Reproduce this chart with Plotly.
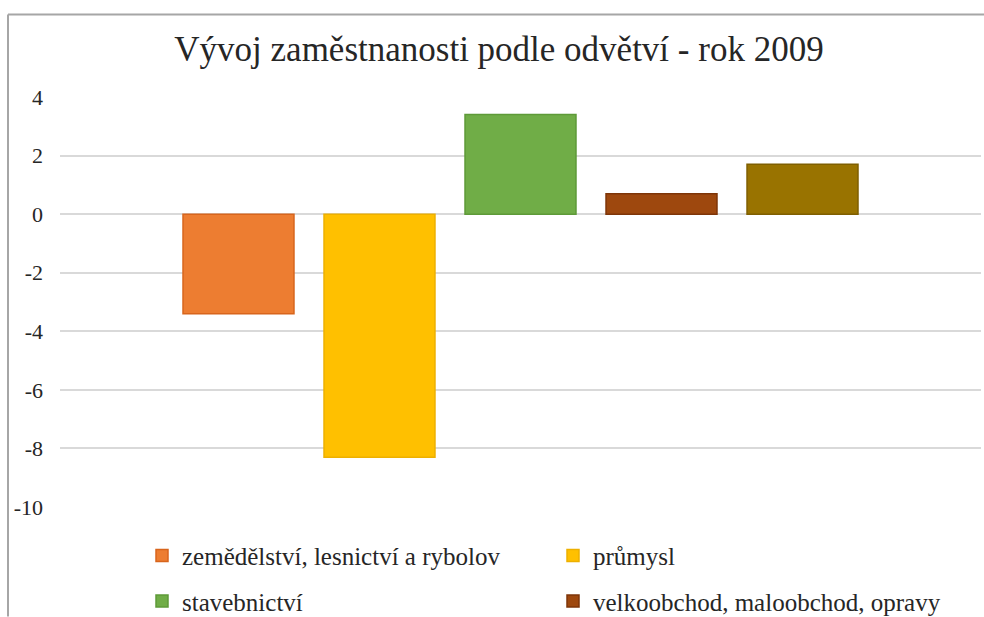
import plotly.graph_objects as go

title_text = "Vývoj zaměstnanosti podle odvětví - rok 2009"
category = ["2009"]
series_names = [
    "zemědělství, lesnictví a rybolov",
    "průmysl",
    "stavebnictví",
    "velkoobchod, maloobchod, opravy",
    "ostatní",
]
series_values = [-3.4, -8.3, 3.4, 0.7, 1.7]
colors = ["#ED7D31", "#FFC000", "#70AD47", "#9E480E", "#997300"]
edge_colors = ["#D8651C", "#EDB000", "#5E9A38", "#7E3508", "#7F5F00"]
legend_ids = ["legend", "legend2", "legend", "legend2", None]
y_ticks = [-10, -8, -6, -4, -2, 0, 2, 4]
y_tick_labels = ["-10", "-8", "-6", "-4", "-2", "0", "2", "4"]

W, H = 984, 617
L, R, T, B = 60, 3, 96.7, 109.7
pw = W - L - R
ph = H - T - B

fig = go.Figure()
for i, (name, val) in enumerate(zip(series_names, series_values)):
    fig.add_trace(go.Bar(
        x=category, y=[val], name=name,
        marker=dict(color=colors[i], line=dict(color=edge_colors[i], width=1.5)),
        showlegend=legend_ids[i] is not None,
        legend=legend_ids[i] if legend_ids[i] else "legend",
        legendgroup=f"g{i}",
    ))

def px_to_paper_x(px):
    return (px - L) / pw

def px_to_paper_y(py):
    return (H - B - py) / ph

font_family = "Liberation Serif"

fig.update_layout(
    width=W, height=H,
    margin=dict(l=L, r=R, t=T, b=B, autoexpand=False),
    paper_bgcolor="white", plot_bgcolor="white",
    font=dict(family=font_family, color="#262626"),
    barmode="group", bargap=0.2345, bargroupgap=0.213,
    title=dict(text=title_text, x=499 / W, xanchor="center",
               y=1 - 49 / H, yanchor="middle", yref="container",
               font=dict(family=font_family, size=35, color="#262626")),
    xaxis=dict(showticklabels=False, showgrid=False, zeroline=False, showline=False),
    yaxis=dict(range=[-10, 4], tickvals=y_ticks, ticktext=y_tick_labels,
               showgrid=True, gridcolor="#D9D9D9",
               gridwidth=1.5, zeroline=True, zerolinecolor="#D9D9D9", zerolinewidth=1.5,
               showline=False, ticks="", ticklabelstandoff=16,
               tickfont=dict(family=font_family, size=22, color="#262626")),
    legend=dict(x=px_to_paper_x(142), xanchor="left",
                y=px_to_paper_y(533), yanchor="top",
                orientation="v", tracegroupgap=10, bgcolor="rgba(0,0,0,0)",
                font=dict(family=font_family, size=25, color="#262626")),
    legend2=dict(x=px_to_paper_x(553), xanchor="left",
                 y=px_to_paper_y(533), yanchor="top",
                 orientation="v", tracegroupgap=10, bgcolor="rgba(0,0,0,0)",
                 font=dict(family=font_family, size=25, color="#262626")),
    shapes=[
        dict(type="line", xref="paper", yref="paper",
             x0=px_to_paper_x(8), x1=px_to_paper_x(W), y0=px_to_paper_y(14), y1=px_to_paper_y(14),
             line=dict(color="#A6A6A6", width=2)),
        dict(type="line", xref="paper", yref="paper",
             x0=px_to_paper_x(8), x1=px_to_paper_x(8), y0=px_to_paper_y(14), y1=px_to_paper_y(H),
             line=dict(color="#A6A6A6", width=2)),
    ],
)

fig.write_html(
    "out.html",
    config={"displayModeBar": False},
    post_script="document.body.style.margin='0';document.body.style.overflow='hidden';",
)
